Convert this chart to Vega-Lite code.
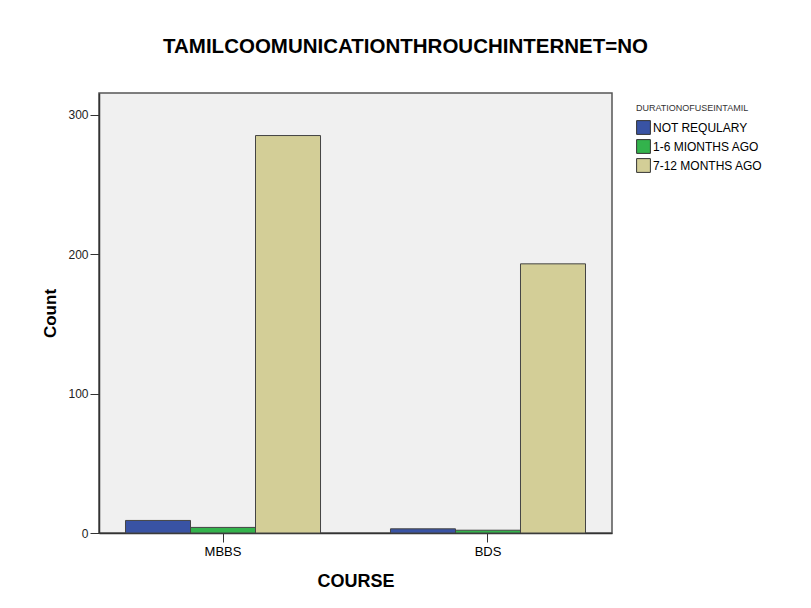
{
  "$schema": "https://vega.github.io/schema/vega-lite/v6.json",
  "autosize": "none",
  "padding": {"left": 99, "top": 93, "right": 199, "bottom": 75},
  "width": 513,
  "height": 440,
  "background": "white",
  "title": {
    "text": "TAMILCOOMUNICATIONTHROUCHINTERNET=NO",
    "font": "Liberation Sans",
    "fontSize": 20.5,
    "fontWeight": "bold",
    "color": "#000000",
    "anchor": "middle",
    "dx": 50,
    "offset": 36
  },
  "config": {
    "view": {"fill": "#f0f0f0", "stroke": "#555555", "strokeWidth": 1.5},
    "font": "Liberation Sans"
  },
  "data": {
    "values": [
      {"course": "MBBS", "duration": "NOT REQULARY", "count": 9},
      {"course": "MBBS", "duration": "1-6 MIONTHS AGO", "count": 4},
      {"course": "MBBS", "duration": "7-12 MONTHS AGO", "count": 285},
      {"course": "BDS", "duration": "NOT REQULARY", "count": 3},
      {"course": "BDS", "duration": "1-6 MIONTHS AGO", "count": 2},
      {"course": "BDS", "duration": "7-12 MONTHS AGO", "count": 193}
    ]
  },
  "mark": {"type": "bar", "stroke": "#444444", "strokeWidth": 1},
  "encoding": {
    "x": {
      "field": "course",
      "type": "nominal",
      "sort": ["MBBS", "BDS"],
      "scale": {"paddingInner": 0.264, "paddingOuter": 0.1},
      "axis": {
        "title": "COURSE",
        "titleFontSize": 18,
        "titleFontWeight": "bold",
        "titleColor": "#000000",
        "titlePadding": 14,
        "labelAngle": 0,
        "labelFontSize": 13,
        "labelColor": "#000000",
        "labelPadding": 3,
        "tickSize": 9,
        "tickColor": "#333333",
        "domain": true,
        "domainColor": "#333333",
        "domainWidth": 1.5
      }
    },
    "xOffset": {
      "field": "duration",
      "type": "nominal",
      "sort": ["NOT REQULARY", "1-6 MIONTHS AGO", "7-12 MONTHS AGO"],
      "scale": {"paddingInner": 0, "paddingOuter": 0}
    },
    "y": {
      "field": "count",
      "type": "quantitative",
      "scale": {"domain": [0, 315.5], "nice": false},
      "axis": {
        "title": "Count",
        "titleFontSize": 17,
        "titleFontWeight": "bold",
        "titleColor": "#000000",
        "titlePadding": 8,
        "values": [0, 100, 200, 300],
        "labelFontSize": 12,
        "labelColor": "#222222",
        "labelPadding": 2,
        "tickSize": 9,
        "tickColor": "#333333",
        "grid": false,
        "domainColor": "#333333",
        "domainWidth": 1.5
      }
    },
    "color": {
      "field": "duration",
      "type": "nominal",
      "sort": ["NOT REQULARY", "1-6 MIONTHS AGO", "7-12 MONTHS AGO"],
      "scale": {
        "domain": ["NOT REQULARY", "1-6 MIONTHS AGO", "7-12 MONTHS AGO"],
        "range": ["#3953a4", "#33b34c", "#d3ce97"]
      },
      "legend": {
        "title": "DURATIONOFUSEINTAMIL",
        "titleFontSize": 9,
        "titleFontWeight": "normal",
        "titleColor": "#333333",
        "titlePadding": 7,
        "labelFontSize": 12,
        "labelColor": "#000000",
        "labelOffset": 2,
        "symbolType": "square",
        "symbolSize": 190,
        "symbolStrokeColor": "#333333",
        "symbolStrokeWidth": 1,
        "rowPadding": 0,
        "orient": "none",
        "legendX": 537,
        "legendY": 11
      }
    }
  }
}
